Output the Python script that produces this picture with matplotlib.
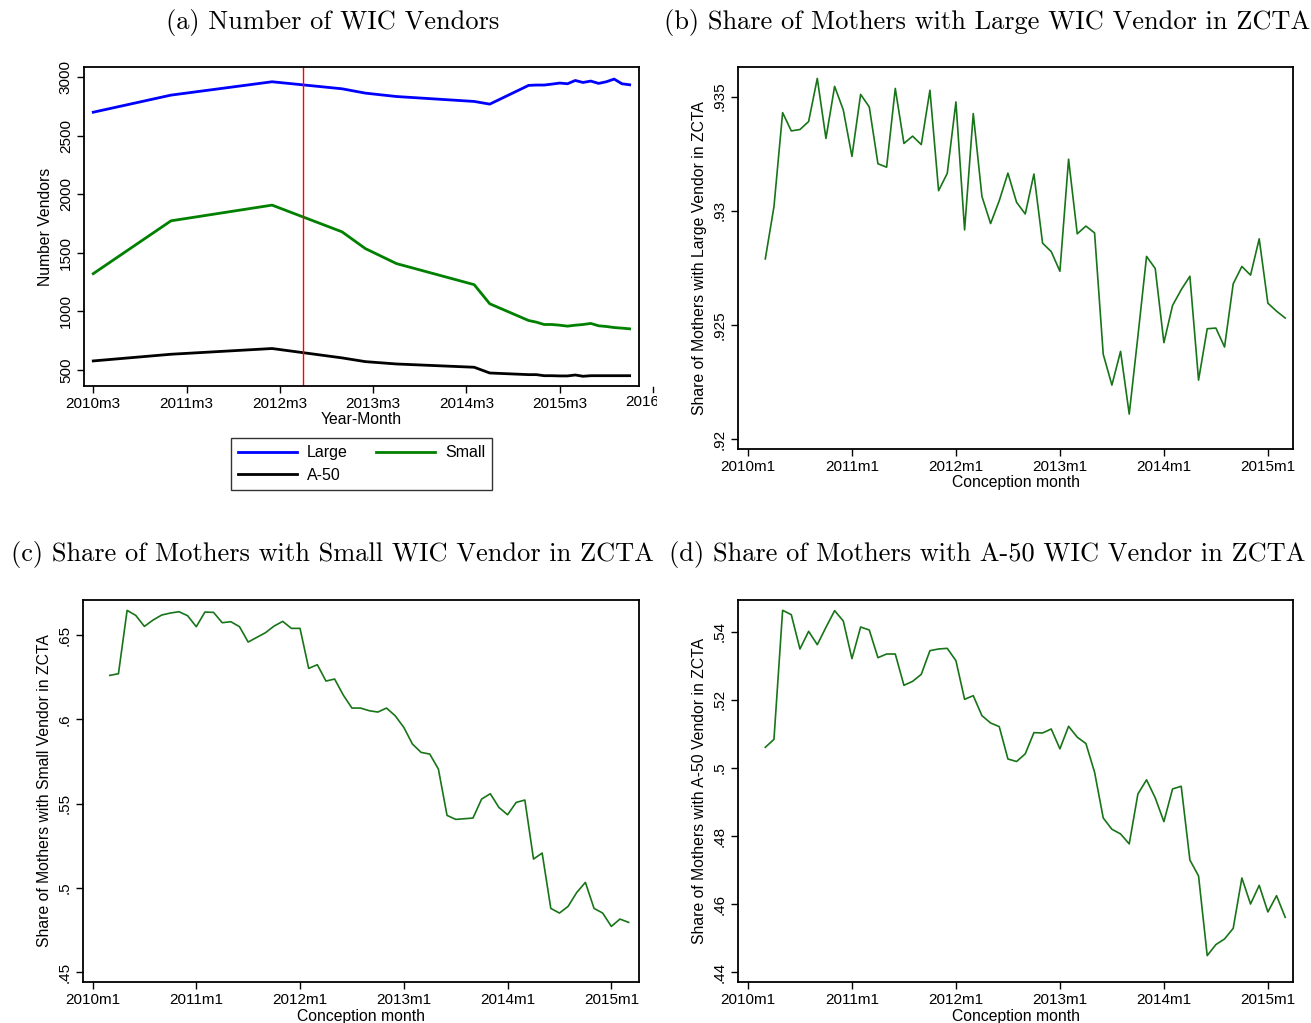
import matplotlib
matplotlib.use("Agg")
import matplotlib.pyplot as plt
from matplotlib.transforms import Bbox, TransformedBbox
import numpy as np

plt.rcParams['font.family'] = ['Liberation Sans', 'DejaVu Sans']

# ---------------- panel (a): number of WIC vendors, months since 2010m1 ----------------
vend_month = [2, 12, 25, 34, 37, 41, 51, 53, 58, 59, 60, 61, 62, 63, 64, 65, 66, 67, 68, 69, 70, 71]
vend_large = [2700, 2846, 2960, 2900, 2863, 2834, 2792, 2769, 2929, 2932, 2932, 2940, 2949, 2943,
              2971, 2954, 2966, 2946, 2960, 2983, 2943, 2934]
vend_small = [1322, 1773, 1907, 1679, 1536, 1408, 1228, 1065, 922, 908, 888, 888, 882, 874,
              882, 888, 897, 877, 871, 862, 857, 851]
vend_a50 = [577, 634, 683, 603, 571, 551, 523, 474, 460, 460, 451, 451, 449, 449,
            457, 446, 451, 451, 451, 451, 451, 451]
policy_month = 29  # red line, 2012m6
a_ticks = [2, 14, 26, 38, 50, 62]
a_ticklabels = ["2010m3", "2011m3", "2012m3", "2013m3", "2014m3", "2015m3"]
a_yticks = [500, 1000, 1500, 2000, 2500, 3000]

# ---------------- panels (b)-(d): monthly shares, 2010m3 .. 2015m3 ----------------
share_month = list(range(2, 63))
share_large = [.92789, .93018, .9343, .9335, .93356, .93391, .9358, .93317, .93545, .93442,
               .93238, .9351, .93455, .93206, .93191, .93536, .93295, .93327, .9329, .93528,
               .93088, .93164, .93477, .92916, .93426, .93063, .92944, .93044, .93165, .93037,
               .92986, .93161, .92858, .92821, .92735, .93226, .92899, .92933, .92903, .92371,
               .92236, .92384, .92109, .9245, .928, .92747, .92422, .92585, .92654, .92713,
               .92258, .92483, .92486, .92403, .9268, .92756, .92718, .92877, .92595, .9256,
               .9253]
share_small = [.62606, .62705, .66464, .66167, .65514, .6589, .66187, .66306, .66385, .66147,
               .65495, .66365, .66345, .65732, .65791, .65495, .64585, .64862, .65138, .65534,
               .65811, .65396, .65396, .63022, .63239, .6227, .62389, .61439, .60667, .60667,
               .60509, .6043, .60667, .60212, .5952, .58531, .58036, .57937, .57047, .54297,
               .5406, .54099, .54139, .55267, .55583, .5477, .54336, .55069, .55208, .51706,
               .52062, .48778, .48501, .48897, .49723, .50321, .48778, .48501, .4771, .48145,
               .47947]
share_a50 = [.50603, .50838, .54627, .54499, .53491, .5401, .53618, .54127, .54617, .54313,
             .53207, .54137, .54049, .53236, .53344, .53344, .52424, .52541, .52747, .53442,
             .53491, .5351, .53148, .52013, .5212, .51533, .51318, .5121, .5026, .50186,
             .50411, .51034, .51024, .51142, .50558, .5122, .50901, .50714, .49873, .48528,
             .48196, .48059, .47766, .49232, .49648, .49119, .4842, .4938, .49459, .47294,
             .46825, .44485, .44809, .44974, .45288, .46765, .46, .46549, .45767, .46245,
             .4561]
m_ticks = [0, 12, 24, 36, 48, 60]
m_ticklabels = ["2010m1", "2011m1", "2012m1", "2013m1", "2014m1", "2015m1"]

W, H = 1311, 1023
fig = plt.figure(figsize=(W / 100, H / 100), dpi=100)


def add_ax(l, r, t, b):
    return fig.add_axes([l / W, 1 - b / H, (r - l) / W, (b - t) / H])


def style(ax, yticks, ylabels, ylab, xticks, xlabels, xlab):
    ax.set_yticks(yticks)
    ax.set_yticklabels(ylabels, rotation=90, va='center')
    ax.set_xticks(xticks)
    ax.set_xticklabels(xlabels)
    ax.tick_params(direction='out', length=5, width=1, labelsize=11, pad=3, colors='black')
    ax.set_ylabel(ylab, fontsize=11.3, labelpad=4)
    ax.set_xlabel(xlab, fontsize=11.3, labelpad=1)
    for s in ax.spines.values():
        s.set_linewidth(1.3)


title_kw = dict(fontfamily='cmr10', fontsize=19, ha='center', va='center')
green = '#187418'

# (a)
ax = add_ax(84, 639, 67, 386)
ax.plot(vend_month, vend_large, color='#0000ff', lw=2, label='Large')
ax.plot(vend_month, vend_small, color='#008000', lw=2, label='Small')
ax.plot(vend_month, vend_a50, color='black', lw=2, label='A-50')
ax.axvline(policy_month, color='#ff0000', lw=1)
ax.set_xlim(0.81, 72.2)
ax.set_ylim(363, 3086)
style(ax, a_yticks, [str(v) for v in a_yticks], 'Number Vendors', a_ticks, a_ticklabels, 'Year-Month')
# 2016m3 tick falls outside the plot region and its label is cut off
tr = ax.get_xaxis_transform()
ax.plot([74, 74], [-0.0035, -0.019], transform=tr, color='black', lw=1, clip_on=False)
t = ax.text(74, -0.028, '2016m3', transform=tr, ha='center', va='top', fontsize=11)
t.set_clip_on(True)
t.set_clip_box(TransformedBbox(Bbox([[0, 0], [657 / W, 1]]), fig.transFigure))
h, l = ax.get_legend_handles_labels()
leg = fig.legend([h[0], h[2], h[1]], [l[0], l[2], l[1]], ncol=2, loc='center',
                 bbox_to_anchor=(361.5 / W, 1 - 464 / H), bbox_transform=fig.transFigure,
                 fontsize=11.5, fancybox=False, edgecolor='black', handlelength=3.7,
                 columnspacing=1.8, labelspacing=0.45, borderpad=0.45, handletextpad=0.6)
leg.get_frame().set_linewidth(1)
fig.text(333 / W, 1 - 22 / H, '(a) Number of WIC Vendors', **title_kw)

# (b)
ax = add_ax(738, 1293, 67, 449)
ax.plot(share_month, share_large, color=green, lw=1.2)
ax.set_xlim(-1.15, 62.9)
ax.set_ylim(.91956, .9363)
style(ax, [.92, .925, .93, .935], ['.92', '.925', '.93', '.935'],
      'Share of Mothers with Large Vendor in ZCTA', m_ticks, m_ticklabels, 'Conception month')
fig.text(987 / W, 1 - 22 / H, '(b) Share of Mothers with Large WIC Vendor in ZCTA', **title_kw)

# (c)
ax = add_ax(83, 639, 600, 982)
ax.plot(share_month, share_small, color=green, lw=1.2)
ax.set_xlim(-1.1, 63.2)
ax.set_ylim(.4441, .6708)
style(ax, [.45, .5, .55, .6, .65], ['.45', '.5', '.55', '.6', '.65'],
      'Share of Mothers with Small Vendor in ZCTA', m_ticks, m_ticklabels, 'Conception month')
fig.text(332 / W, 1 - 555 / H, '(c) Share of Mothers with Small WIC Vendor in ZCTA', **title_kw)

# (d)
ax = add_ax(738, 1293, 600, 982)
ax.plot(share_month, share_a50, color=green, lw=1.2)
ax.set_xlim(-1.15, 62.9)
ax.set_ylim(.4371, .5493)
style(ax, [.44, .46, .48, .5, .52, .54], ['.44', '.46', '.48', '.5', '.52', '.54'],
      'Share of Mothers with A-50 Vendor in ZCTA', m_ticks, m_ticklabels, 'Conception month')
fig.text(987 / W, 1 - 555 / H, '(d) Share of Mothers with A-50 WIC Vendor in ZCTA', **title_kw)

fig.savefig('out.png', dpi=100)
